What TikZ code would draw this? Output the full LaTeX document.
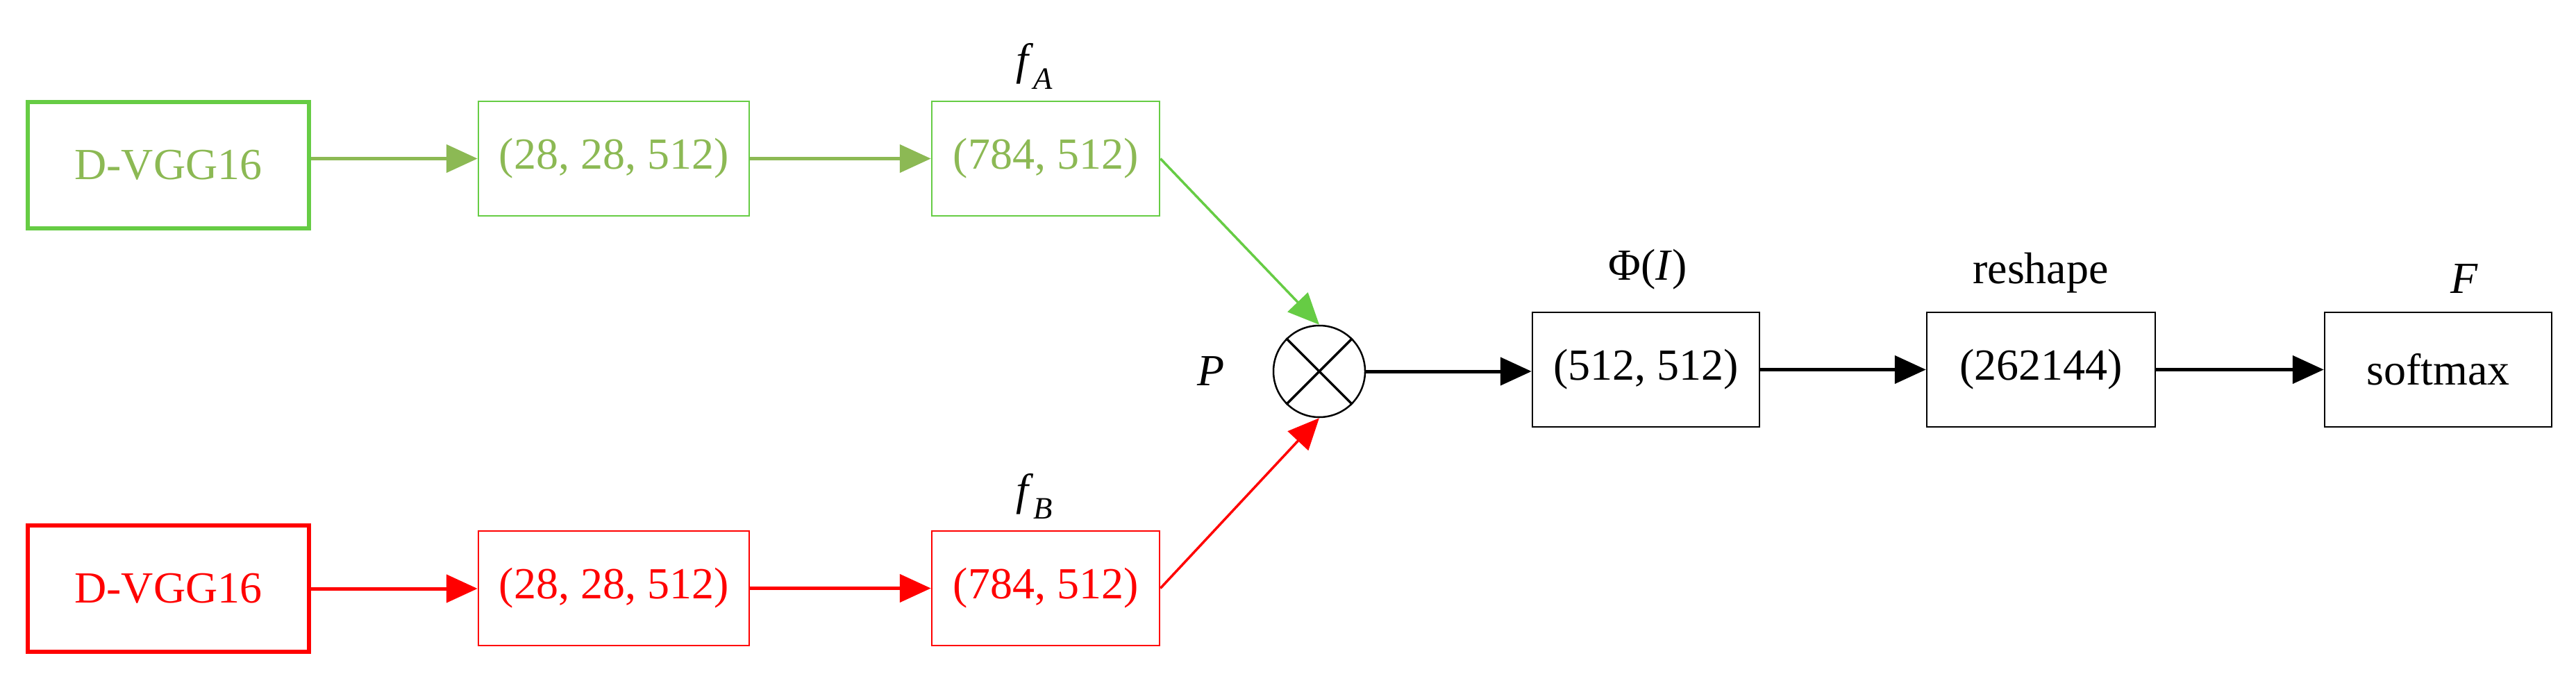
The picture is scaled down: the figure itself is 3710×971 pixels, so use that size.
\documentclass[tikz,border=0pt]{standalone}
\usepackage{fontspec}
\setmainfont{Liberation Serif}
\usetikzlibrary{arrows.meta}
\definecolor{ogreen}{HTML}{8CB954}
\definecolor{bgreen}{HTML}{66CC44}
\tikzset{
  bx/.style={draw, line width=2.5pt, minimum width=#1, minimum height=165pt, inner sep=0pt, font=\fontsize{64}{74}\selectfont},
  arr/.style={line width=5pt, -{Triangle[length=45pt,width=40pt]}},
  lbl/.style={font=\fontsize{64}{74}\selectfont, inner sep=0pt}
}
\begin{document}
\begin{tikzpicture}[x=1pt,y=-1pt]
\useasboundingbox (0,0) rectangle (3710,971);
% green row
\node[bx=405pt, minimum height=182pt, line width=6pt, draw=bgreen, text=ogreen] (ga) at (242.5,238) {D-VGG16};
\node[bx=390pt, draw=bgreen, text=ogreen] (gb) at (884,228.5) {(28, 28, 512)};
\node[bx=328pt, draw=bgreen, text=ogreen] (gc) at (1506,228.5) {(784, 512)};
\node[lbl] (fa) at (1490,95) {\textit{f}\textsubscript{\textit{A}}};
% red row
\node[bx=405pt, minimum height=182pt, line width=6pt, draw=red, text=red] (ra) at (242.5,848) {D-VGG16};
\node[bx=390pt, draw=red, text=red] (rb) at (884,847.5) {(28, 28, 512)};
\node[bx=328pt, draw=red, text=red] (rc) at (1506,847.5) {(784, 512)};
\node[lbl] (fb) at (1490,715) {\textit{f}\textsubscript{\textit{B}}};
% product
\node[draw, circle, line width=2.5pt, minimum size=132pt, inner sep=0pt] (p) at (1900,535) {};
\draw[line width=3.5pt] (p.north west) -- (p.south east) (p.north east) -- (p.south west);
\node[lbl] (pl) at (1744,535) {\textit{P}};
% black row
\node[bx=327pt, draw=black] (m) at (2370.5,532.5) {(512, 512)};
\node[bx=329pt, draw=black] (r) at (2939.5,532.5) {(262144)};
\node[bx=327pt, draw=black] (s) at (3511.5,532.5) {softmax};
\node[lbl] (phi) at (2373,388) {Φ(\textit{I})};
\node[lbl] (rs) at (2939,393) {reshape};
\node[lbl] (F) at (3549,402) {\textit{F}};
% arrows
\draw[arr, ogreen] (ga.east |- gb.west) -- (gb.west);
\draw[arr, ogreen] (gb) -- (gc);
\draw[arr, red] (ra.east) -- (ra.east -| rb.west);
\draw[arr, red] (rb) -- (rc);
\draw[arr, bgreen, line width=3.5pt] (gc.east) -- (p.north);
\draw[arr, red, line width=3.5pt] (rc.east) -- (p.south);
\draw[arr] (p.east) -- (p.east -| m.west);
\draw[arr] (m) -- (r);
\draw[arr] (r) -- (s);
\end{tikzpicture}
\end{document}
